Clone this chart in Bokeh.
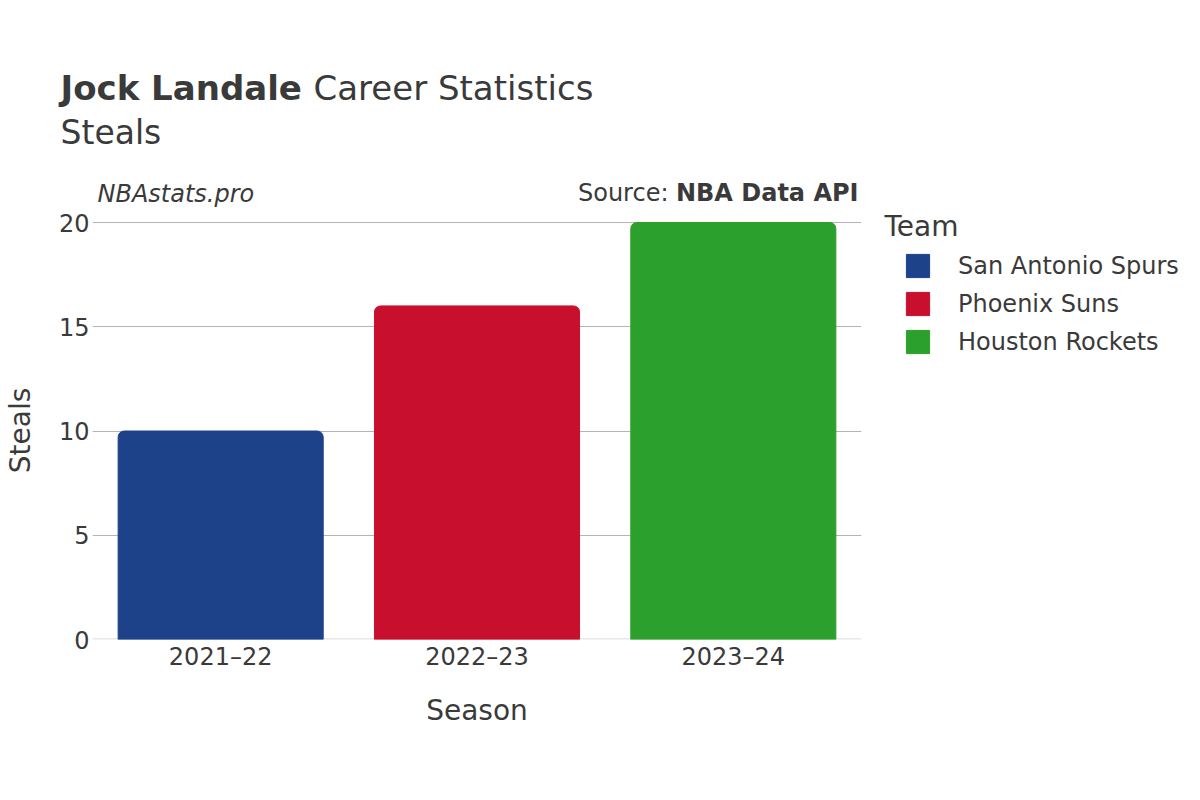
from bokeh.plotting import figure
from bokeh.models import Label, Legend, LegendItem, Range1d, ColumnDataSource
from bokeh.embed import file_html
from bokeh.resources import INLINE

seasons = ["2021–22", "2022–23", "2023–24"]
teams = ["San Antonio Spurs", "Phoenix Suns", "Houston Rockets"]
steals = [10, 16, 20]
colors = ["#1d428a", "#c8102e", "#2ca02c"]

player = "Jock Landale"
title_rest = "Career Statistics"
stat_name = "Steals"
brand = "NBAstats.pro"
source_lbl = "Source:"
source_name = "NBA Data API"
legend_title = "Team"

FONT = "DejaVu Sans"
TXT = "#3a3a3a"

p = figure(x_range=seasons, y_range=Range1d(0, 20.05),
           frame_width=769, frame_height=418,
           min_border_left=92, min_border_right=339,
           min_border_top=221, min_border_bottom=161,
           output_backend="svg", toolbar_location=None,
           background_fill_color="white", border_fill_color="white",
           outline_line_color=None)

renderers = []
for s, t, v, c in zip(seasons, teams, steals, colors):
    src = ColumnDataSource(dict(x=[s], top=[v]))
    r = p.vbar(x="x", top="top", width=0.8, source=src, fill_color=c,
               line_color=c, line_width=1, border_radius=(6, 6, 0, 0))
    renderers.append((t, r))

p.hspan(y=[0], line_color="#e8e8e8", line_width=3, level="underlay")

p.xgrid.grid_line_color = None
p.ygrid.grid_line_color = "#b4b4b4"
p.ygrid.grid_line_width = 1
p.ygrid.level = "underlay"
p.yaxis.ticker = [0, 5, 10, 15, 20]

for ax in (p.xaxis[0], p.yaxis[0]):
    ax.axis_line_color = None
    ax.major_tick_line_color = None
    ax.minor_tick_line_color = None
    ax.major_tick_out = 0
    ax.major_tick_in = 0
    ax.minor_tick_out = 0
    ax.major_label_text_font = FONT
    ax.major_label_text_color = TXT
    ax.major_label_text_font_size = "24px"
    ax.axis_label_text_font = FONT
    ax.axis_label_text_color = TXT
    ax.axis_label_text_font_size = "28px"
    ax.axis_label_text_font_style = "normal"

p.xaxis.axis_label = "Season"
p.yaxis.axis_label = stat_name
p.xaxis.major_label_standoff = 3
p.yaxis.major_label_standoff = 3
p.xaxis.axis_label_standoff = 20
p.yaxis.axis_label_standoff = 19

legend = Legend(items=[LegendItem(label=t, renderers=[r]) for t, r in renderers],
                location=(42, 283),
                label_text_font=FONT, label_text_font_size="24px",
                label_text_color=TXT,
                glyph_width=29, glyph_height=29, label_height=29,
                spacing=9, label_standoff=26,
                padding=4, margin=0,
                border_line_color=None, background_fill_alpha=0)
p.add_layout(legend, "right")

# header texts: canvas coordinates inside side panels (so they are not clipped)
def lab(x, y, text, size, style="normal", align="left", side="above"):
    p.add_layout(Label(x=x, y=y, x_units="canvas", y_units="canvas", text=text,
                       text_font=FONT, text_font_size=size, text_font_style=style,
                       text_color=TXT, text_align=align, text_baseline="alphabetic"),
                 side)

lab(60, 87, player, "34px", "bold")
lab(313, 87, title_rest, "34px")
lab(60, 132, stat_name, "33px")
lab(97, 193, brand, "24px", "italic")
lab(884, 226, legend_title, "28px")
lab(858, 192, source_name, "24px", "bold", align="right", side="below")
lab(668, 192, source_lbl, "24px", align="right", side="below")

open("out.html", "w").write(file_html(p, INLINE))
